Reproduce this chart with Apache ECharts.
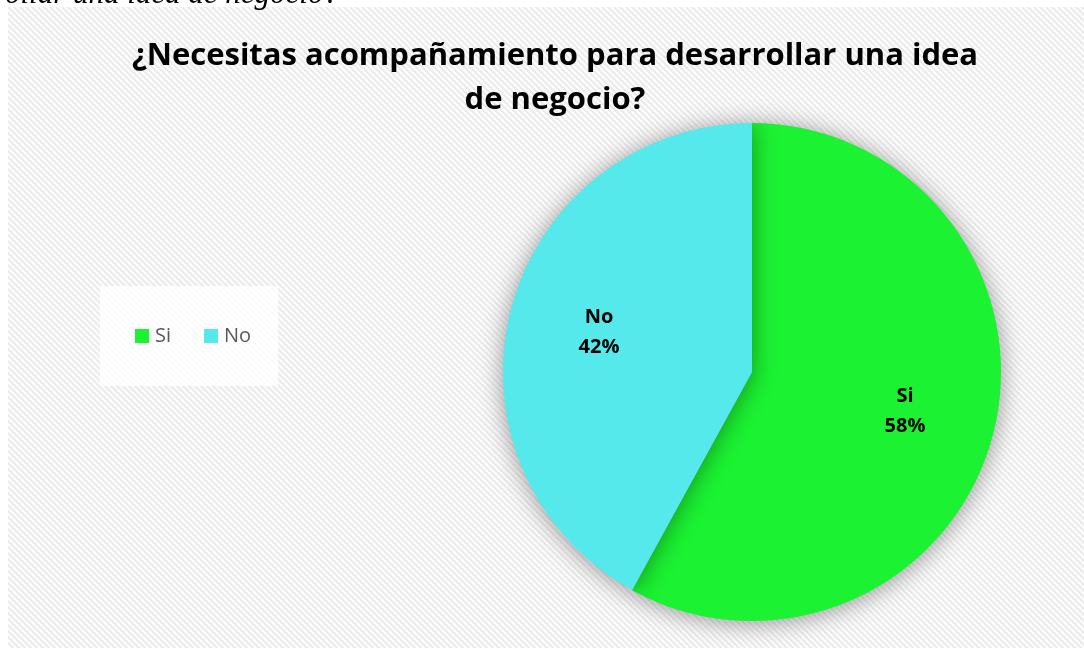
<!DOCTYPE html>
<html>
<head>
<meta charset="utf-8">
<script src="https://cdn.jsdelivr.net/npm/echarts@6/dist/echarts.min.js"></script>
<style>
html,body{margin:0;padding:0;background:#ffffff;}
#chart{width:1084px;height:648px;}
</style>
</head>
<body>
<div id="chart"></div>
<script>
const categories = ['Si', 'No'];
const values = [58, 42];
const colors = ['#1BF232', '#56E9EC'];
const titleText = '¿Necesitas acompañamiento para desarrollar una idea\nde negocio?';
const pageFragment = 'rollar una idea de negocio?';

// diagonal hatch tile
const tile = document.createElement('canvas');
tile.width = 6; tile.height = 6;
const tctx = tile.getContext('2d');
const img = tctx.createImageData(6, 6);
for (let y = 0; y < 6; y++) {
  for (let x = 0; x < 6; x++) {
    const m = ((x - y) % 6 + 6) % 6;
    const v = (m < 3) ? 236 : 252;
    const i = (y * 6 + x) * 4;
    img.data[i] = v; img.data[i+1] = v; img.data[i+2] = v; img.data[i+3] = 255;
  }
}
tctx.putImageData(img, 0, 0);

const data = categories.map((c, i) => ({ name: c, value: values[i], itemStyle: { color: colors[i] } }));

const chart = echarts.init(document.getElementById('chart'), null, { renderer: 'canvas' });
chart.setOption({
  animation: false,
  backgroundColor: '#ffffff',
  title: {
    text: titleText,
    left: 550,
    top: 29,
    textAlign: 'center',
    textStyle: {
      fontFamily: 'Open Sans',
      fontWeight: 'bold',
      fontSize: 31,
      lineHeight: 44,
      color: '#000000'
    }
  },
  graphic: [
    {
      type: 'rect', z: -10, silent: true,
      shape: { x: 8, y: 7, width: 1076, height: 641 },
      style: { fill: { image: tile, repeat: 'repeat' } }
    },
    {
      type: 'rect', z: -5, silent: true,
      shape: { x: 100, y: 286, width: 178, height: 100 },
      style: { fill: 'rgba(255,255,255,0.8)' }
    },
    {
      type: 'text', silent: true,
      x: -6, y: -5,
      style: {
        text: pageFragment,
        font: 'italic 31px "Liberation Serif"',
        fill: '#000000',
        verticalAlign: 'middle'
      }
    }
  ],
  legend: {
    data: categories,
    left: 135,
    top: 325,
    orient: 'horizontal',
    icon: 'rect',
    itemWidth: 14,
    itemHeight: 14,
    itemGap: 33,
    padding: 0,
    textStyle: { fontFamily: 'Open Sans', fontSize: 20, color: '#595959', lineHeight: 22, padding: [0, 0, 0, 1] }
  },
  series: [
    {
      type: 'pie',
      center: [752, 372],
      radius: [0, 249],
      startAngle: 90,
      clockwise: true,
      silent: true,
      label: { show: false },
      labelLine: { show: false },
      itemStyle: { shadowBlur: 24, shadowColor: 'rgba(0,0,0,0.4)', shadowOffsetY: 2 },
      data: data
    },
    {
      type: 'pie',
      center: [752, 372],
      radius: [61, 249],
      startAngle: 90,
      clockwise: true,
      silent: true,
      itemStyle: { color: 'rgba(0,0,0,0)' },
      label: {
        show: true,
        position: 'inside',
        formatter: p => p.name + '\n' + Math.round(p.percent) + '%',
        fontFamily: 'Open Sans',
        fontWeight: 'bold',
        fontSize: 20,
        lineHeight: 30,
        color: '#000000'
      },
      labelLine: { show: false },
      data: categories.map((c, i) => ({ name: c, value: values[i] }))
    }
  ]
});
</script>
</body>
</html>
